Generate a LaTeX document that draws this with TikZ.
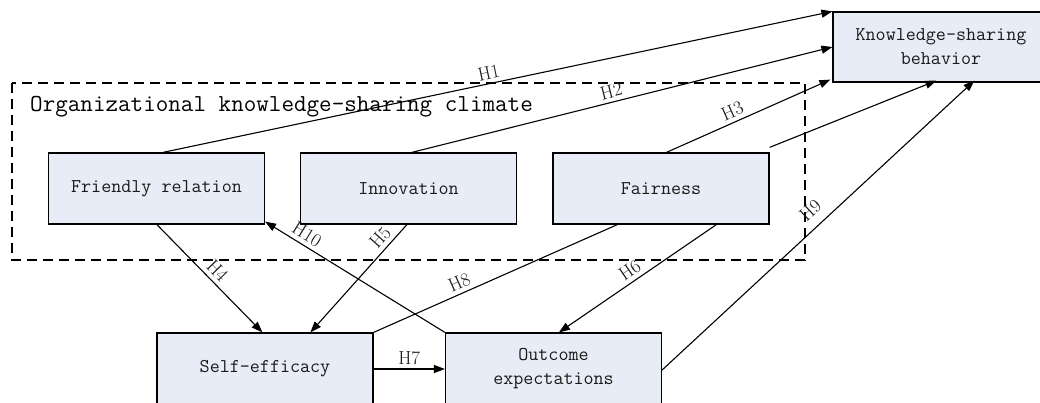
\documentclass[tikz,border=0pt]{standalone}
\usetikzlibrary{arrows.meta,calc}
\definecolor{boxfill}{HTML}{E7ECF6}
\definecolor{txt}{HTML}{1A1A1A}
\begin{document}
\begin{tikzpicture}[x=1pt,y=-1pt,
  box/.style={draw=black,line width=1.2pt,fill=boxfill,minimum width=216pt,minimum height=71pt,inner sep=0pt,
    font=\ttfamily\fontsize{19.5}{24}\selectfont,text=txt,align=center},
  conn/.style={draw=black,line width=1.1pt},
  arr/.style={conn,-{Triangle[length=11pt,width=8pt]}},
  hl/.style={font=\rmfamily\fontsize{19}{22}\selectfont,text=txt,sloped,above=2pt,inner sep=2pt}]
\useasboundingbox (0,0) rectangle (1040,403);
\fill[white] (0,0) rectangle (1040,403);
% climate frame
\draw[line width=1.1pt,dash pattern=on 10pt off 6pt] (12,83) rectangle (805,260);
\node[anchor=west,font=\ttfamily\fontsize{24.4}{28}\selectfont,text=black,inner sep=0pt] (title) at (30,107) {Organizational knowledge-sharing climate};
% boxes
\node[box] (fr) at (156.5,188.5) {Friendly relation};
\node[box] (in) at (408.5,188.5) {Innovation};
\node[box] (fa) at (661,188.5) {Fairness};
\node[box,minimum height=70pt] (ksb) at (941,47) {Knowledge-sharing\\behavior};
\node[box,minimum height=72pt] (se) at (265,369) {Self-efficacy};
\node[box,minimum height=72pt] (oe) at (553.5,369) {Outcome\\expectations};
% connectors
\draw[arr] ([xshift=115pt]fr.north west) -- node[hl,pos=0.49] {H1} (ksb.north west);
\draw[arr] ([xshift=112pt]in.north west) -- node[hl,pos=0.48] {H2} (ksb.west);
\draw[arr] ([xshift=114pt]fa.north west) -- node[hl,pos=0.43] {H3} ([xshift=-2pt,yshift=3pt]ksb.south west);
\draw[arr] ([yshift=5pt]fa.north east) -- ([xshift=104pt,yshift=2pt]ksb.south west);
\draw[arr] ([yshift=-1pt]oe.east) -- node[hl,pos=0.51,above=5pt] {H9} ([xshift=142pt,yshift=2pt]ksb.south west);
\draw[arr] ([xshift=109pt]fr.south west) -- node[hl,pos=0.50] {H4} ([xshift=106pt]se.north west);
\draw[arr] ([xshift=107pt]in.south west) -- node[hl,pos=0.19] {H5} ([xshift=154pt]se.north west);
\draw[conn] (se.north east) -- node[hl,pos=0.37] {H8} ([xshift=65pt]fa.south west);
\draw[arr] ([xshift=164pt]fa.south west) -- node[hl,pos=0.51] {H6} ([xshift=114pt]oe.north west);
\draw[arr] (oe.north west) -- node[hl,pos=0.80] {H10} ([yshift=3pt]fr.south east);
\draw[arr] (se.east) -- node[hl,pos=0.5] {H7} (oe.west);
\end{tikzpicture}
\end{document}
